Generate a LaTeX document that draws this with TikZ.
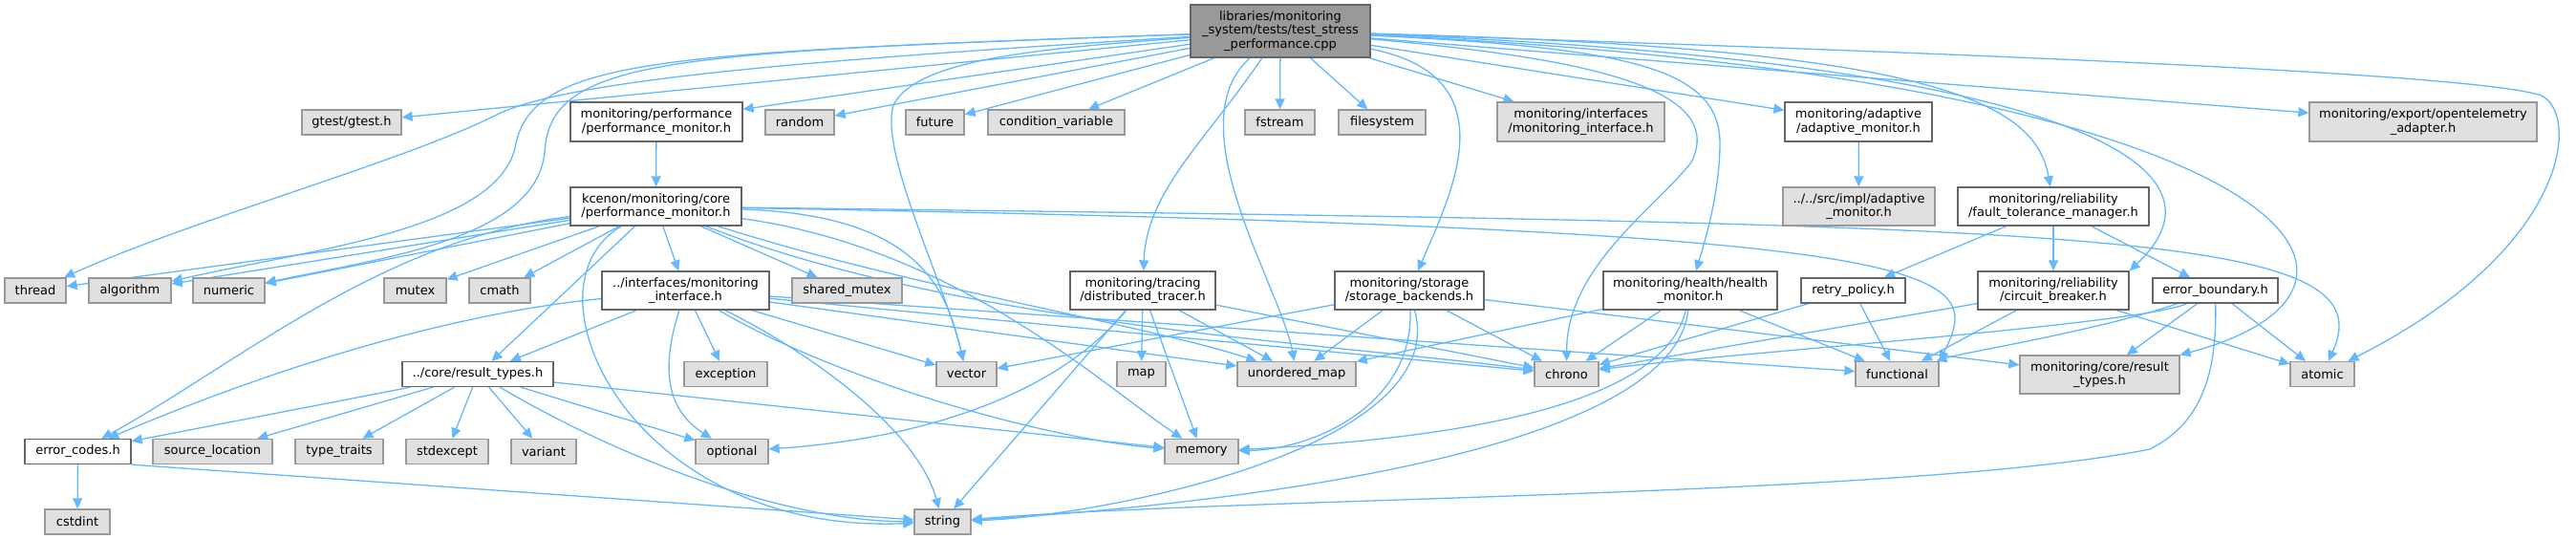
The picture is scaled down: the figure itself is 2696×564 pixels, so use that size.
\documentclass[tikz,border=0pt]{standalone}
\usepackage{fontspec}
\setmainfont{DejaVu Sans}
\usetikzlibrary{arrows.meta}
\definecolor{edgec}{HTML}{63B8FF}
\definecolor{extfill}{HTML}{E0E0E0}
\definecolor{extdraw}{HTML}{999999}
\definecolor{docdraw}{HTML}{666666}
\definecolor{rootfill}{HTML}{999999}
\pgfdeclarelayer{bg}
\pgfsetlayers{bg,main}
\tikzset{
  box/.style={rectangle, inner sep=0pt, line width=1.3pt, align=center, font=\fontsize{13pt}{14.5pt}\selectfont},
  ext/.style={box, fill=extfill, draw=extdraw},
  doc/.style={box, fill=white, draw=docdraw},
  root/.style={box, fill=rootfill, draw=docdraw},
  dep/.style={draw=edgec, line width=1.3pt, -{Triangle[length=11pt,width=10pt]}},
  h1/.style={minimum height=26pt},
  h2/.style={minimum height=40pt}
}
\begin{document}
\begin{tikzpicture}[x=1pt,y=-1pt]
\useasboundingbox (0,0) rectangle (2696,564);
% root
\node[root, minimum width=188pt, minimum height=55pt] (top) at (1340,32.5) {libraries/monitoring\\\_system/tests/test\_stress\\\_performance.cpp};
% row 2
\node[ext,h1,minimum width=104pt] (gtest) at (368,128) {gtest/gtest.h};
\node[doc,minimum height=41pt,minimum width=180pt] (perf) at (687,127.5) {monitoring/performance\\/performance\_monitor.h};
\node[ext,h1,minimum width=72pt] (random) at (837,128) {random};
\node[ext,h1,minimum width=61pt] (future) at (978.5,128) {future};
\node[ext,h1,minimum width=143pt] (condvar) at (1105.5,128) {condition\_variable};
\node[ext,h1,minimum width=73pt] (fstream) at (1339.5,128) {fstream};
\node[ext,h1,minimum width=91pt] (filesystem) at (1446.5,128) {filesystem};
\node[ext,minimum height=41pt,minimum width=175pt] (ifaceext) at (1654.5,127.5) {monitoring/interfaces\\/monitoring\_interface.h};
\node[doc,minimum height=41pt,minimum width=154pt] (adaptive) at (1945,127.5) {monitoring/adaptive\\/adaptive\_monitor.h};
\node[ext,minimum height=41pt,minimum width=238pt] (otel) at (2536,127.5) {monitoring/export/opentelemetry\\\_adapter.h};
% row 3
\node[doc,h2,minimum width=179pt] (kcenon) at (686.5,216) {kcenon/monitoring/core\\/performance\_monitor.h};
\node[ext,h2,minimum width=159pt] (srcimpl) at (1945.5,216) {../../src/impl/adaptive\\\_monitor.h};
\node[doc,h2,minimum width=200pt] (fault) at (2149,216) {monitoring/reliability\\/fault\_tolerance\_manager.h};
% row 4
\node[ext,h1,minimum width=64pt] (thread) at (37,304) {thread};
\node[ext,h1,minimum width=86pt] (algorithm) at (136,304) {algorithm};
\node[ext,h1,minimum width=75pt] (numeric) at (239.5,304) {numeric};
\node[ext,h1,minimum width=65pt] (mutex) at (434.5,304) {mutex};
\node[ext,h1,minimum width=64pt] (cmath) at (523,304) {cmath};
\node[doc,h2,minimum width=175pt] (iface) at (717.5,304) {../interfaces/monitoring\\\_interface.h};
\node[ext,h1,minimum width=115pt] (sharedmutex) at (886.5,304) {shared\_mutex};
\node[doc,h2,minimum width=152pt] (tracing) at (1196,304) {monitoring/tracing\\/distributed\_tracer.h};
\node[doc,h2,minimum width=156pt] (storage) at (1475,304) {monitoring/storage\\/storage\_backends.h};
\node[doc,h2,minimum width=182pt] (health) at (1769,304) {monitoring/health/health\\\_monitor.h};
\node[doc,h1,minimum width=109pt] (retry) at (1939.5,304) {retry\_policy.h};
\node[doc,h2,minimum width=158pt] (circuit) at (2149,304) {monitoring/reliability\\/circuit\_breaker.h};
\node[doc,h1,minimum width=131pt] (errbound) at (2318.5,304) {error\_boundary.h};
% row 5
\node[doc,h1,minimum width=158pt] (result) at (500,391.5) {../core/result\_types.h};
\node[ext,h1,minimum width=87pt] (exception) at (759.5,391.5) {exception};
\node[ext,h1,minimum width=63pt] (vector) at (1011.5,391.5) {vector};
\node[ext,h1,minimum width=51pt] (map) at (1194.5,391.5) {map};
\node[ext,h1,minimum width=124pt] (umap) at (1357,391.5) {unordered\_map};
\node[ext,h1,minimum width=67pt] (chrono) at (1639.5,391.5) {chrono};
\node[ext,h1,minimum width=87pt] (functional) at (1985.5,391.5) {functional};
\node[ext,h2,minimum width=167pt] (coreres) at (2197.5,392) {monitoring/core/result\\\_types.h};
\node[ext,h1,minimum width=67pt] (atomic) at (2430.5,391.5) {atomic};
% row 6
\node[doc,h1,minimum width=111pt] (errcodes) at (81.5,472.5) {error\_codes.h};
\node[ext,h1,minimum width=125pt] (srcloc) at (222.5,472.5) {source\_location};
\node[ext,h1,minimum width=92pt] (typetraits) at (355,472.5) {type\_traits};
\node[ext,h1,minimum width=86pt] (stdexcept) at (468,472.5) {stdexcept};
\node[ext,h1,minimum width=68pt] (variant) at (569,472.5) {variant};
\node[ext,h1,minimum width=76pt] (optional) at (766,472.5) {optional};
\node[ext,h1,minimum width=77pt] (memory) at (1257.5,472.5) {memory};
% row 7
\node[ext,h1,minimum width=68pt] (cstdint) at (81,546) {cstdint};
\node[ext,h1,minimum width=59pt] (string) at (986.5,546) {string};

\begin{pgfonlayer}{bg}
\fill[white] (0,0) rectangle (2696,564);
% root edges
\draw[dep] (top) -- (gtest);
\draw[dep] (top) .. controls (900,60) and (600,80) .. (520,120) .. controls (420,170) and (200,230) .. (thread);
\draw[dep] (top) .. controls (700,55) and (560,60) .. (540,150) .. controls (525,240) and (330,260) .. (algorithm);
\draw[dep] (top) .. controls (700,55) and (575,60) .. (570,160) .. controls (560,250) and (400,270) .. (numeric);
\draw[dep] (top) -- (perf);
\draw[dep] (top) -- (random);
\draw[dep] (top) -- (future);
\draw[dep] (top) -- (condvar);
\draw[dep] (top) .. controls (1100,50) and (960,60) .. (935,110) .. controls (920,160) and (990,300) .. (vector);
\draw[dep] (top) .. controls (1260,150) and (1200,200) .. (tracing);
\draw[dep] (top) .. controls (1230,130) and (1340,300) .. (umap);
\draw[dep] (top) -- (fstream);
\draw[dep] (top) -- (filesystem);
\draw[dep] (top) .. controls (1580,80) and (1520,200) .. (storage);
\draw[dep] (top) -- (ifaceext);
\draw[dep] (top) .. controls (1650,60) and (1810,90) .. (1770,170) .. controls (1730,220) and (1640,280) .. (chrono);
\draw[dep] (top) .. controls (1700,50) and (1800,70) .. (1800,150) .. controls (1800,200) and (1785,250) .. (health);
\draw[dep] (top) -- (adaptive);
\draw[dep] (top) .. controls (2000,50) and (2130,100) .. (fault);
\draw[dep] (top) .. controls (2100,60) and (2360,160) .. (circuit.north east);
\draw[dep] (top) .. controls (2400,80) and (2550,300) .. (coreres.north east);
\draw[dep] (top) -- (otel);
\draw[dep] (top) .. controls (2200,60) and (2600,80) .. (2660,100) .. controls (2700,120) and (2690,260) .. (atomic);
% simple
\draw[dep] (perf) -- (kcenon);
\draw[dep] (adaptive) -- (srcimpl);
\draw[dep] (fault) -- (retry);
\draw[dep] (fault) -- (circuit);
\draw[dep] (fault) -- (errbound);
% kcenon
\draw[dep] (kcenon) -- (thread);
\draw[dep] (kcenon) -- (algorithm);
\draw[dep] (kcenon) -- (numeric);
\draw[dep] (kcenon) -- (mutex);
\draw[dep] (kcenon) -- (cmath);
\draw[dep] (kcenon) -- (iface);
\draw[dep] (kcenon) -- (sharedmutex);
\draw[dep] (kcenon) -- (result);
\draw[dep] (kcenon) .. controls (400,250) and (250,380) .. (errcodes);
\draw[dep] (kcenon) .. controls (540,300) and (660,560) .. (string);
\draw[dep] (kcenon) .. controls (960,225) and (990,300) .. (vector);
\draw[dep] (kcenon) .. controls (1000,260) and (1150,400) .. (memory);
\draw[dep] (kcenon) .. controls (950,300) and (1200,340) .. (umap);
\draw[dep] (kcenon) .. controls (1000,340) and (1400,360) .. (chrono);
\draw[dep] (kcenon) .. controls (2050,240) and (2080,280) .. (functional.north east);
\draw[dep] (kcenon) .. controls (2200,235) and (2500,240) .. (atomic);
% interface
\draw[dep] (iface) -- (result);
\draw[dep] (iface) .. controls (450,330) and (250,400) .. (errcodes);
\draw[dep] (iface) -- (exception);
\draw[dep] (iface) .. controls (690,390) and (700,430) .. (optional);
\draw[dep] (iface) .. controls (850,370) and (960,450) .. (string);
\draw[dep] (iface) .. controls (880,400) and (1100,460) .. (memory);
\draw[dep] (iface) -- (vector);
\draw[dep] (iface) -- (umap);
\draw[dep] (iface) -- (chrono);
\draw[dep] (iface) -- (functional);
% result types
\draw[dep] (result) -- (errcodes);
\draw[dep] (result) -- (srcloc);
\draw[dep] (result) -- (typetraits);
\draw[dep] (result) -- (stdexcept);
\draw[dep] (result) -- (variant);
\draw[dep] (result) -- (optional);
\draw[dep] (result) -- (memory);
\draw[dep] (result) .. controls (650,480) and (820,545) .. (string);
\draw[dep] (errcodes) -- (cstdint);
\draw[dep] (errcodes.south east) -- (string);
% tracing
\draw[dep] (tracing) .. controls (1100,420) and (950,460) .. (optional);
\draw[dep] (tracing) -- (string);
\draw[dep] (tracing) -- (map);
\draw[dep] (tracing) -- (memory);
\draw[dep] (tracing) -- (umap);
\draw[dep] (tracing) -- (chrono);
% storage
\draw[dep] (storage) -- (vector);
\draw[dep] (storage) -- (umap);
\draw[dep] (storage) .. controls (1480,420) and (1380,470) .. (memory);
\draw[dep] (storage) .. controls (1520,470) and (1150,540) .. (string);
\draw[dep] (storage) -- (chrono);
\draw[dep] (storage) -- (coreres);
% health
\draw[dep] (health) -- (umap);
\draw[dep] (health) -- (chrono);
\draw[dep] (health) -- (functional);
\draw[dep] (health) .. controls (1740,430) and (1500,460) .. (memory);
\draw[dep] (health) .. controls (1750,480) and (1250,530) .. (string);
% reliability
\draw[dep] (retry) -- (chrono);
\draw[dep] (retry) -- (functional);
\draw[dep] (circuit) -- (chrono);
\draw[dep] (circuit) -- (functional);
\draw[dep] (circuit) -- (atomic);
\draw[dep] (errbound) .. controls (2240,340) and (1800,370) .. (chrono);
\draw[dep] (errbound) .. controls (2200,345) and (2050,370) .. (functional);
\draw[dep] (errbound) -- (coreres);
\draw[dep] (errbound) -- (atomic);
\draw[dep] (errbound) .. controls (2320,380) and (2310,440) .. (2250,470) .. controls (2000,520) and (1300,520) .. (string);
\end{pgfonlayer}
\end{tikzpicture}
\end{document}
